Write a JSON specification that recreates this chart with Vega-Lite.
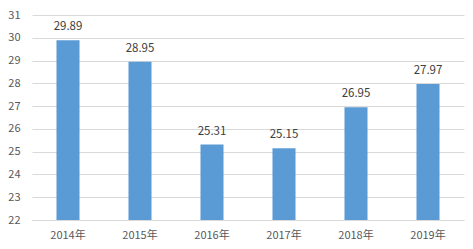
{
  "$schema": "https://vega.github.io/schema/vega-lite/v6.json",
  "width": 432,
  "height": 205,
  "autosize": {"type": "none"},
  "padding": {"left": 32, "top": 15, "right": 9, "bottom": 29},
  "background": "white",
  "config": {
    "view": {"stroke": null},
    "font": "Noto Sans CJK SC"
  },
  "data": {
    "values": [
      {"year": "2014年", "value": 29.89},
      {"year": "2015年", "value": 28.95},
      {"year": "2016年", "value": 25.31},
      {"year": "2017年", "value": 25.15},
      {"year": "2018年", "value": 26.95},
      {"year": "2019年", "value": 27.97}
    ]
  },
  "encoding": {
    "x": {
      "field": "year",
      "type": "nominal",
      "sort": null,
      "scale": {"paddingInner": 0.68, "paddingOuter": 0.34},
      "axis": {
        "title": null,
        "labelAngle": 0,
        "ticks": false,
        "domain": true,
        "domainColor": "#D9D9D9",
        "labelColor": "#595959",
        "labelFontSize": 11,
        "labelPadding": 9,
        "labelFont": "Noto Sans CJK SC"
      }
    },
    "y": {
      "field": "value",
      "type": "quantitative",
      "scale": {"domain": [22, 31], "zero": false, "nice": false},
      "axis": {
        "title": null,
        "values": [22, 23, 24, 25, 26, 27, 28, 29, 30, 31],
        "ticks": false,
        "domain": false,
        "gridColor": "#D9D9D9",
        "labelColor": "#595959",
        "labelFontSize": 11,
        "labelPadding": 12,
        "labelFont": "Noto Sans CJK SC"
      }
    }
  },
  "layer": [
    {
      "mark": {"type": "bar", "color": "#5B9BD5"},
      "encoding": {"y2": {"datum": 22}}
    },
    {
      "mark": {"type": "text", "baseline": "bottom", "dy": -8, "fontSize": 11.5, "color": "#404040"},
      "encoding": {"text": {"field": "value", "type": "quantitative", "format": ".2f"}}
    }
  ]
}
